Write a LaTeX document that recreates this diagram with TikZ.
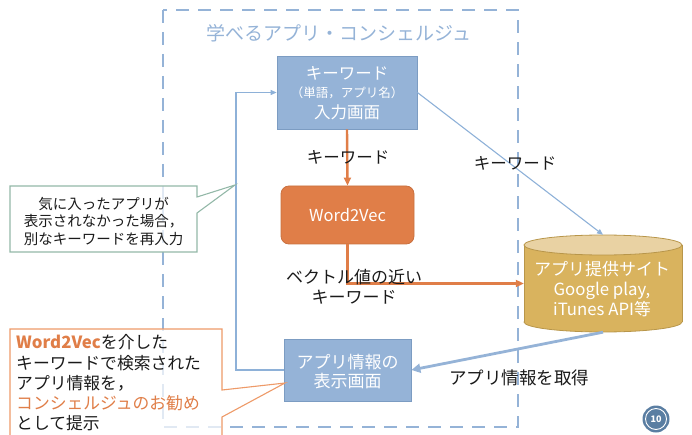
\documentclass[tikz,border=0pt]{standalone}
\usepackage{fontspec}
\newfontfamily\cjk{Noto Sans CJK JP}
\usetikzlibrary{arrows.meta,calc}
\definecolor{boxblue}{HTML}{95B3D7}
\definecolor{boxblueline}{HTML}{7C9CC2}
\definecolor{lineblue}{HTML}{8EB1D8}
\definecolor{orangefill}{HTML}{E07E48}
\definecolor{orangeline}{HTML}{C9703F}
\definecolor{gold}{HTML}{D9B35E}
\definecolor{goldtop}{HTML}{E9D2A3}
\definecolor{goldline}{HTML}{B8964A}
\definecolor{calloutgreen}{HTML}{93B8A8}
\definecolor{calloutorange}{HTML}{EE9A68}
\definecolor{pgblue}{HTML}{5A7EA2}
\definecolor{txt}{HTML}{1A1A1A}
\newcommand{\fs}[2]{\fontsize{#1}{#2}\selectfont}
\begin{document}
\begin{tikzpicture}[x=1pt,y=-1pt,
  every node/.style={font=\cjk},
  bluebox/.style={draw=boxblueline, fill=boxblue, line width=0.8pt, text=white, align=center, inner sep=0pt},
  w2vbox/.style={draw=orangeline, fill=orangefill, line width=0.8pt, rounded corners=8pt, text=white, inner sep=0pt},
  dashbox/.style={draw=boxblue, line width=2.8pt, dash pattern=on 13pt off 9pt},
  thinarrow/.style={draw=lineblue, line width=1.1pt, -{Triangle[length=6pt,width=5pt]}},
  thickarrow/.style={draw=boxblue, line width=2.8pt, -{Triangle[length=9pt,width=9pt]}},
  orangearrow/.style={draw=orangefill, line width=2.4pt, -{Triangle[length=8pt,width=7pt]}},
  lbl/.style={text=txt, align=center, inner sep=0pt},
  wlbl/.style={text=white, align=center, inner sep=0pt},
  callout/.style={fill=white, fill opacity=0.72, line width=1.1pt, line join=miter}
]
\useasboundingbox (0,0) rectangle (692,435);

% dashed system frame
\draw[dashbox] (163,10) rectangle (518,427);
\node[text=boxblue, inner sep=0pt, font=\cjk\fs{19}{22}] (title) at (339,33) {学べるアプリ・コンシェルジュ};

% main nodes
\node[bluebox, minimum width=140pt, minimum height=73pt] (kw) at (347,92.5) {};
\node[wlbl, font=\cjk\fs{16.5}{19}] (kw1) at ($(kw)+(0,-19.5)$) {キーワード};
\node[wlbl, font=\cjk\fs{12.5}{15}] (kw2) at ($(kw)+(0,0)$) {（単語，アプリ名）};
\node[wlbl, font=\cjk\fs{16.5}{19}] (kw3) at ($(kw)+(0,19.5)$) {入力画面};

\node[w2vbox, minimum width=133pt, minimum height=58pt, font=\cjk\fs{16.5}{19}] (w2v) at (347.5,215) {Word2Vec};
\node[bluebox, minimum width=127pt, minimum height=62pt] (app) at (347.5,370) {};
\node[wlbl, font=\cjk\fs{17}{20}] (app1) at (347.5,362) {アプリ情報の};
\node[wlbl, font=\cjk\fs{17}{20}] (app2) at (347.5,381.5) {表示画面};

% cylinder (drawn directly) + its node
\fill[gold, draw=goldline, line width=0.8pt] (603,322) ellipse[x radius=79, y radius=10];
\fill[gold] (524,245) rectangle (682,322);
\draw[goldline, line width=0.8pt] (524,245) -- (524,322) (682,245) -- (682,322);
\filldraw[fill=goldtop, draw=goldline, line width=0.8pt] (603,245) ellipse[x radius=79, y radius=10];
\node[minimum width=158pt, minimum height=97pt, inner sep=0pt] (site) at (603,283.5) {};
\node[wlbl, font=\cjk\fs{17}{20}] (site1) at (602,269.5) {アプリ提供サイト};
\node[wlbl, font=\cjk\fs{16.8}{20}] (site2) at (602,290.5) {Google play,};
\node[wlbl, font=\cjk\fs{16.8}{20}] (site3) at (602,309.5) {iTunes API等};

% connectors
\draw[orangearrow] (kw.south) -- (w2v.north);
\draw[orangearrow] (w2v.south) |- (site.west);
\draw[thinarrow] (kw.east) -- (site.north);
\draw[thickarrow] (site.south) -- (app.east);
\coordinate (fbturn) at (236,370);
\draw[thinarrow] (app.west) -- (fbturn) |- (kw.west);

% connector labels
\node[lbl, font=\cjk\fs{16.5}{19}] (l1) at (348,157) {キーワード};
\node[lbl, font=\cjk\fs{16.5}{19}] (l2) at (515,163) {キーワード};
\node[lbl, font=\cjk\fs{17}{20}] (l3) at (354,287) {ベクトル値の近い\\キーワード};
\node[lbl, font=\cjk\fs{17.5}{20}] (l4) at (519,378) {アプリ情報を取得};

% callout 1
\coordinate (c1tip) at (235,185);
\draw[callout, draw=calloutgreen] (10,186) -- (197,186) -- (197,197) -- (c1tip) -- (197,213) -- (197,252) -- (10,252) -- cycle;
\node[lbl, font=\cjk\fs{14.5}{17.5}] (c1) at (103.5,221)
  {気に入ったアプリが\\表示されなかった場合，\\別なキーワードを再入力};

% callout 2
\coordinate (c2tip) at (285,383);
\draw[callout, draw=calloutorange] (10,329) -- (222,329) -- (222,390) -- (c2tip) -- (222,417) -- (222,445) -- (10,445) -- cycle;
\node[lbl, align=left, anchor=west, font=\cjk\fs{16.8}{20.3}] (c2) at (16,383)
  {{\color{orangefill}\bfseries Word2Vec}を介した\\キーワードで検索された\\アプリ情報を，\\{\color{orangefill}コンシェルジュのお勧め}\\として提示};

% page number
\node[circle, fill=pgblue, minimum size=27pt, inner sep=0pt] (pg) at (656,419) {};
\draw[white, line width=0.9pt] (pg.center) circle[radius=10.5];
\node[text=white, inner sep=0pt, font=\cjk\bfseries\fs{9}{10}] at (pg) {10};
\end{tikzpicture}
\end{document}
